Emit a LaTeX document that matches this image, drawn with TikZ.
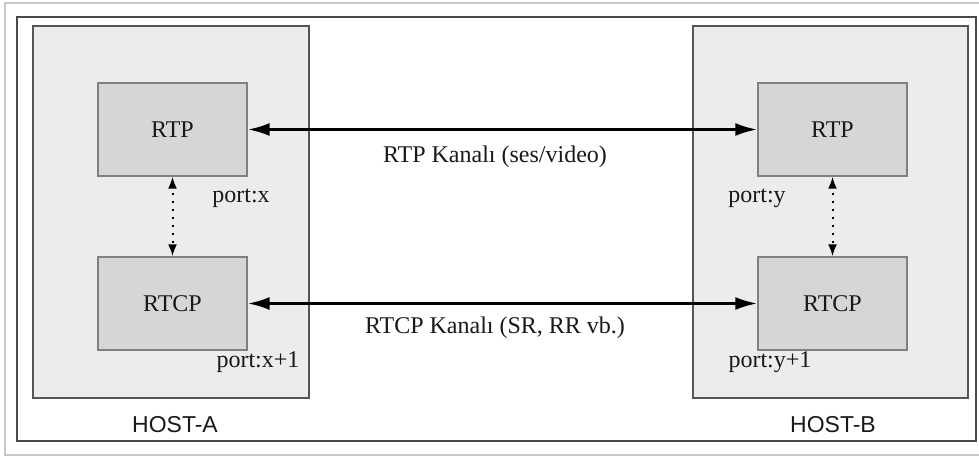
\documentclass[tikz,border=0pt]{standalone}
\usepackage{fontspec}
\setmainfont{Liberation Serif}
\newfontfamily\hostfont{Liberation Sans}
\usetikzlibrary{arrows.meta}
\definecolor{hostfill}{HTML}{ECECEC}
\definecolor{hostline}{HTML}{555555}
\definecolor{boxfill}{HTML}{D6D6D6}
\definecolor{boxline}{HTML}{808080}
\definecolor{frameline}{HTML}{4A4A4A}
\definecolor{pageline}{HTML}{C8C8C8}
\tikzset{
  hostbox/.style={draw=hostline, fill=hostfill, line width=1.6pt, inner sep=0pt},
  protobox/.style={draw=boxline, fill=boxfill, line width=1.4pt, minimum width=149pt,
    minimum height=93pt, inner sep=0pt, font=\fontsize{24}{26}\selectfont, text=black!90},
  lbl/.style={font=\fontsize{24}{26}\selectfont, text=black!90, inner sep=0pt},
  hostlbl/.style={font=\hostfont\fontsize{23}{26}\selectfont, text=black!90, inner sep=0pt},
  channel/.style={line width=2.8pt, {Latex[length=22pt,width=13pt]}-{Latex[length=22pt,width=13pt]}},
  link/.style={line width=2pt, dash pattern=on 2pt off 6pt, dash phase=3pt,
    {Latex[length=12pt,width=9pt]}-{Latex[length=12pt,width=9pt]}}
}
\begin{document}
\begin{tikzpicture}[x=1pt,y=-1pt]
  \useasboundingbox (0,0) rectangle (979,457);
  \fill[white] (0,0) rectangle (979,457);
  % page border and outer frame
  \draw[pageline, line width=1.5pt] (979,3) -- (5,3) -- (5,455) -- (979,455);
  \draw[frameline, line width=1.6pt] (17,17) rectangle (976,441);
  % host areas
  \node[hostbox, minimum width=276pt, minimum height=372pt] (hostA) at (171,212) {};
  \node[hostbox, minimum width=275pt, minimum height=372pt] (hostB) at (830.5,212) {};
  \node[hostlbl] (hostAl) at (175,425) {HOST-A};
  \node[hostlbl] (hostBl) at (833,425) {HOST-B};
  % protocol boxes
  \node[protobox] (rtpA) at (172.5,129.5) {RTP};
  \node[protobox] (rtcpA) at (172.5,303.5) {RTCP};
  \node[protobox] (rtpB) at (832.5,129.5) {RTP};
  \node[protobox] (rtcpB) at (832.5,303.5) {RTCP};
  % port labels
  \node[lbl] (pA) at (241,198) {port:x};
  \node[lbl] (pA1) at (258,362) {port:x+1};
  \node[lbl] (pB) at (757,198) {port:y};
  \node[lbl] (pB1) at (770,362) {port:y+1};
  % channels
  \draw[channel] (rtpA.east) -- (rtpB.west);
  \draw[channel] (rtcpA.east) -- (rtcpB.west);
  \node[lbl] (rtpch) at (495,157) {RTP Kanalı (ses/video)};
  \node[lbl] (rtcpch) at (495,328) {RTCP Kanalı (SR, RR vb.)};
  % port pairing
  \draw[link] (rtpA.south) -- (rtcpA.north);
  \draw[link] (rtpB.south) -- (rtcpB.north);
\end{tikzpicture}
\end{document}
